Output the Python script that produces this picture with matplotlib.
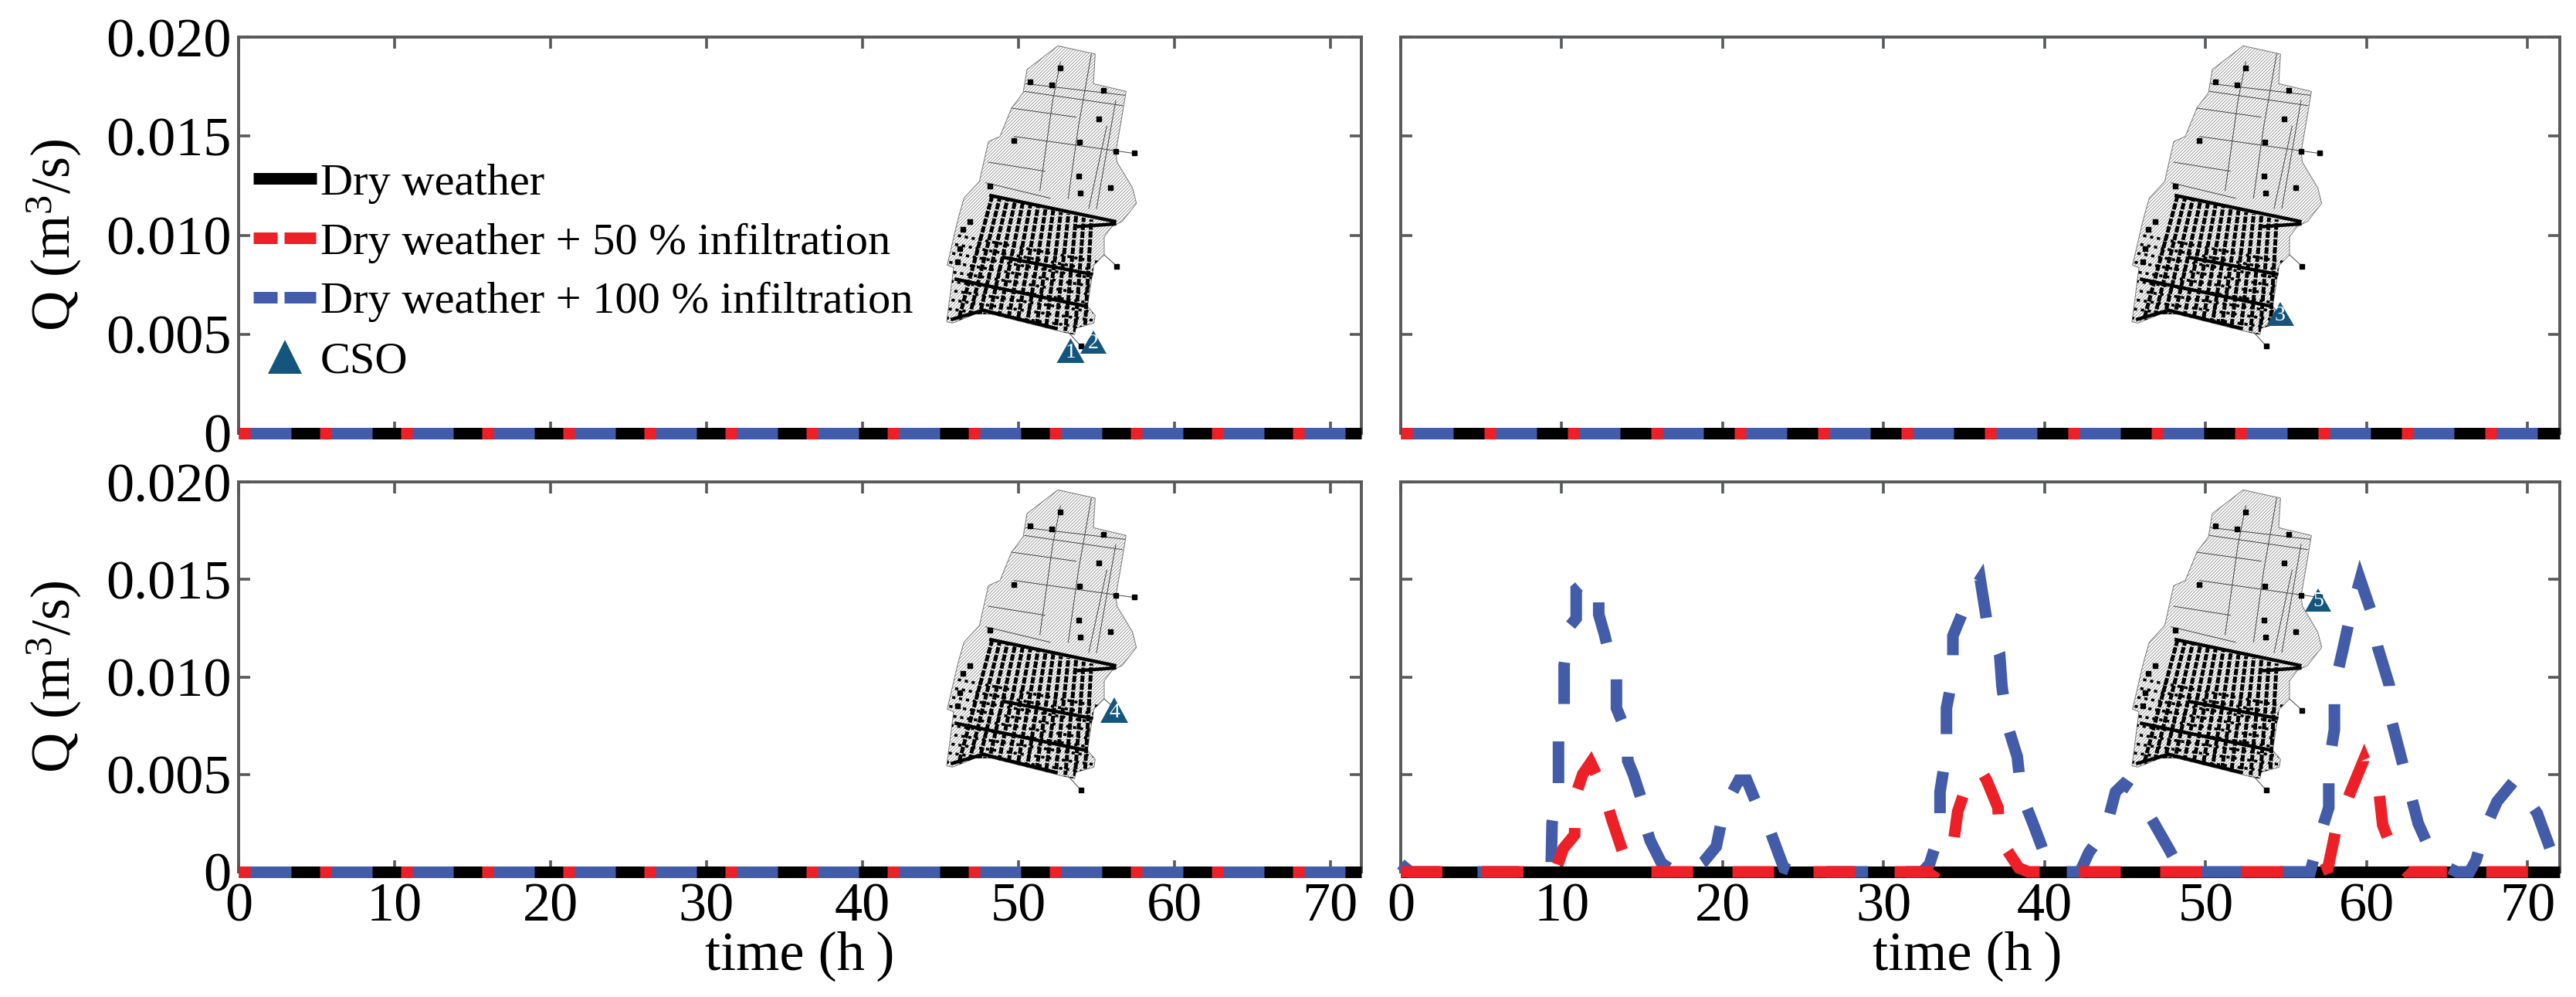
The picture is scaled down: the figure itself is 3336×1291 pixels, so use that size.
import numpy as np
import matplotlib
matplotlib.use("Agg")
import matplotlib.pyplot as plt
from matplotlib.lines import Line2D
from matplotlib.patches import Polygon

plt.rcParams['font.family'] = ['Liberation Serif', 'DejaVu Serif']
plt.rcParams['mathtext.fontset'] = 'custom'
plt.rcParams['mathtext.rm'] = 'Liberation Serif'
plt.rcParams['mathtext.default'] = 'rm'
plt.rcParams['lines.scale_dashes'] = False
plt.rcParams['hatch.linewidth'] = 0.5

W, H = 3336, 1291
PX = 0.72  # points per pixel at dpi 100

# data: flat panels and the panel with overflow events
zero_t = [0, 72]
zero_q = [0, 0]

blue_t = [0, 0.6, 9.0, 9.35, 9.4, 9.8, 9.8, 10.15, 10.15, 10.5, 10.9, 10.9, 11.6, 12.3, 12.3, 12.65,
          13.05, 13.4, 13.4, 14.1, 14.1, 14.45, 15.0, 15.2, 15.5, 16.2, 17.0, 17.9,
          18.8, 19.6, 20.1, 21.0, 21.5, 22.2, 22.9, 23.8, 24.5,
          32.4, 32.85, 33.5, 33.5, 33.9, 33.9, 34.3, 34.3, 35.3, 36.0, 36.4, 37.2, 37.35, 37.7,
          38.3, 38.55, 39.27, 40.0, 40.8,
          42.2, 42.75, 43.8, 44.4, 44.9, 45.6, 46.8, 47.7, 48.5,
          56.5, 57.0, 57.65, 57.65, 58.0, 58.0, 58.5, 59.0, 59.6, 60.3, 60.7, 61.4, 61.5,
          62.1, 62.6, 63.2, 63.9, 65.1, 65.6,
          66.4, 66.8, 67.3, 68.1, 69.2, 70.6, 71.4, 72.0]
blue_q = [0.0004, 0, 0, 0.00045, 0.0025, 0.0045, 0.0067, 0.0085, 0.0106, 0.0126, 0.0130, 0.0145, 0.0150,
          0.0142, 0.0132, 0.0122, 0.0108, 0.0100, 0.0084, 0.0070, 0.0057, 0.0050, 0.0036, 0.0024, 0.0016,
          0.00045, 0, 0,
          0.0005, 0.0013, 0.0033, 0.0047, 0.0047, 0.0033, 0.0022, 0.0002, 0,
          0, 0.0004, 0.0021, 0.0041, 0.0062, 0.0084, 0.0101, 0.0121, 0.0141, 0.0150, 0.0129, 0.0112, 0.0095,
          0.0075, 0.0059, 0.0040, 0.0025, 0.0009, 0,
          0, 0.0010, 0.0022, 0.0041, 0.0045, 0.0041, 0.0025, 0.0012, 0,
          0, 0.0016, 0.0033, 0.0055, 0.0073, 0.0095, 0.0113, 0.0132, 0.0150, 0.0133, 0.0115, 0.0096, 0.0079,
          0.0060, 0.0044, 0.0025, 0.0012, 0.0002, 0,
          0, 0.0006, 0.0021, 0.0036, 0.0047, 0.0030, 0.0012, 0.0008]

red_t = [0, 9.6, 10.1, 10.8, 10.85, 11.3, 11.8, 12.5, 13.15, 13.8, 14.3, 15.0,
         33.2, 34.3, 34.6, 35.3, 36.05, 36.4, 37.1, 37.2, 38.4, 39.0,
         57.0, 57.6, 58.1, 59.0, 59.85, 60.8, 61.0, 61.9, 62.5, 72.0]
red_q = [0, 0, 0.0012, 0.0019, 0.0039, 0.0050, 0.0056, 0.0044, 0.0026, 0.0010, 0.0004, 0,
         0, 0.0013, 0.0031, 0.0048, 0.0052, 0.0047, 0.0033, 0.0017, 0.0002, 0,
         0, 0.0002, 0.0022, 0.0041, 0.0058, 0.0039, 0.0024, 0.0005, 0, 0]

x_ticks = [0, 10, 20, 30, 40, 50, 60, 70]
y_ticks = [0, 0.005, 0.010, 0.015, 0.020]
y_labels = ['0', '0.005', '0.010', '0.015', '0.020']
legend_labels = ['Dry weather', 'Dry weather + 50 % infiltration', 'Dry weather + 100 % infiltration', 'CSO']

BLACK = '#000000'
RED = '#EE2027'
BLUE = '#435CA9'
CSO = '#14557E'
SPINE = '#58595B'

# panel boxes in pixels: left, top, right, bottom
boxes = [(309, 48, 1763, 561), (1814, 48, 3315, 561),
         (309, 624, 1763, 1129), (1814, 624, 3315, 1129)]
# dash repeat length of the flat lines in each panel, pixels
periods = [105, 108, 105]

# map shape, in pixels x3 relative to the crop origin of panel one
outline = [(510, 88), (655, 120), (648, 235), (775, 265), (755, 385), (735, 500), (740, 540), (800, 640),
           (815, 700), (760, 770), (720, 790), (690, 830), (690, 900), (650, 940), (640, 1000), (625, 1100),
           (655, 1135), (650, 1165), (580, 1185), (575, 1210), (530, 1200), (250, 1130), (190, 1130),
           (100, 1165), (78, 1160), (105, 950), (80, 940), (115, 790), (125, 750), (145, 680), (205, 615),
           (240, 460), (285, 440), (330, 330), (375, 270), (390, 180)]
thin_roads = [[(520, 150), (490, 300), (440, 650)], [(640, 120), (590, 400), (550, 680)],
              [(385, 235), (770, 280)], [(380, 265), (760, 320)], [(330, 330), (580, 365)],
              [(340, 440), (800, 505)], [(240, 540), (460, 575)], [(230, 620), (480, 680)],
              [(735, 300), (660, 720)], [(700, 400), (630, 720)], [(690, 900), (740, 945)],
              [(550, 1200), (600, 1255)]]
thick_roads = [[(115, 995), (620, 1100)], [(300, 910), (640, 975)], [(100, 1150), (220, 1115), (500, 1185)],
               [(250, 670), (730, 770)], [(590, 790), (730, 780)]]
nodes = [(403, 228), (487, 240), (686, 262), (668, 372), (338, 455), (594, 462), (590, 594), (714, 640),
         (598, 660), (246, 632), (168, 772), (520, 175), (735, 497), (808, 505), (120, 928), (130, 875),
         (140, 800), (738, 945), (600, 1255)]


def draw_map(ov, dx, dy):
    to_px = lambda p: (p[0] / 3 + 1200 + dx, p[1] / 3 + 30 + dy)
    shape = Polygon([to_px(p) for p in outline], closed=True, facecolor='white', edgecolor='#777777',
                    lw=0.7, hatch='////////', zorder=2)
    ov.add_patch(shape)
    for road in thin_roads:
        xs, ys = zip(*[to_px(p) for p in road])
        ov.plot(xs, ys, color='#444444', lw=0.7, zorder=3)
    for road in thick_roads:
        xs, ys = zip(*[to_px(p) for p in road])
        ov.plot(xs, ys, color='black', lw=3.2, zorder=4)
    # slanted street blocks of the dense quarter
    tops = np.linspace(255, 640, 14)
    for i, tx in enumerate(tops):
        ty = 670 + (tx - 255) * 0.24
        bx = tx - 130 + i * 8
        by = 1150 + (tx - 255) * 0.14
        (x0, y0), (x1, y1) = to_px((tx, ty)), to_px((bx, by))
        line, = ov.plot([x0, x1], [y0, y1], color='black', lw=3.6, ls=(i * 2, (6, 1.4)), zorder=4)
        line.set_clip_path(shape)
    for j in range(11):
        y0 = 790 + j * 36
        a = to_px((95 - j * 3, y0 + 30))
        b = to_px((700 - j * 3, y0 + 145 - j * 4))
        line, = ov.plot([a[0], b[0]], [a[1], b[1]], color='black', lw=2.6, ls=(j * 2, (3, 3.5)), zorder=4)
        line.set_clip_path(shape)
    xs, ys = zip(*[to_px(p) for p in nodes])
    ov.plot(xs, ys, 's', color='black', ms=5, zorder=5)


def draw_cso(ov, cx, apex, base, half, label):
    ov.add_patch(Polygon([(cx, apex), (cx - half, base), (cx + half, base)], closed=True, facecolor=CSO,
                         edgecolor='none', zorder=8))
    ov.text(cx, base - 1, label, color='white', fontsize=20, ha='center', va='bottom', zorder=9)


fig = plt.figure(figsize=(W / 100, H / 100), dpi=100, facecolor='white')
axes = []
for i, (l, t, r, b) in enumerate(boxes):
    ax = fig.add_axes([l / W, 1 - b / H, (r - l) / W, (b - t) / H])
    ax.set_xlim(0, 72)
    ax.set_ylim(0, 0.02)
    ax.set_xticks(x_ticks)
    ax.set_yticks(y_ticks)
    ax.set_yticklabels(y_labels if i in (0, 2) else [])
    if i < 2:
        ax.set_xticklabels([])
    ax.tick_params(direction='in', top=True, right=True, length=11, width=2.6, color=SPINE,
                   labelsize=52, pad=7)
    ax.tick_params(axis='x', pad=10)
    for s in ax.spines.values():
        s.set_color(SPINE)
        s.set_linewidth(2.8)
    ax.plot(zero_t, zero_q, color=BLACK, lw=15 * PX, solid_capstyle='butt', clip_on=False, zorder=3)
    if i < 3:
        p = periods[i]
        ax.plot(zero_t, zero_q, color=RED, lw=15 * PX, clip_on=False, zorder=4, dash_capstyle='butt',
                ls=(0, (54 * PX, (p - 54) * PX)))
        ax.plot(zero_t, zero_q, color=BLUE, lw=15 * PX, clip_on=False, zorder=5, dash_capstyle='butt',
                ls=((p - 15) * PX, (53 * PX, (p - 53) * PX)))
    else:
        ax.plot(blue_t, blue_q, color=BLUE, lw=15 * PX, clip_on=False, zorder=4, dash_capstyle='butt',
                dash_joinstyle='miter', ls=(0, (54 * PX, 49 * PX)))
        ax.plot(red_t, red_q, color=RED, lw=15 * PX, clip_on=False, zorder=5, dash_capstyle='butt',
                dash_joinstyle='miter', ls=(0, (54 * PX, 51 * PX)))
    axes.append(ax)

axes[0].set_ylabel('Q (m$^{3}$/s)', fontsize=52, labelpad=21)
axes[2].set_ylabel('Q (m$^{3}$/s)', fontsize=52, labelpad=21)
axes[2].set_xlabel('time (h\u2009)', fontsize=52, labelpad=-2)
axes[3].set_xlabel('time (h\u2009)', fontsize=52, labelpad=-2, x=0.489)

handles = [
    Line2D([], [], color=BLACK, lw=15 * PX, solid_capstyle='butt'),
    Line2D([], [], color=RED, lw=15 * PX, dash_capstyle='butt', ls=(0, (31 * PX, 9 * PX, 41 * PX, 60 * PX))),
    Line2D([], [], color=BLUE, lw=15 * PX, dash_capstyle='butt', ls=(0, (31 * PX, 9 * PX, 41 * PX, 60 * PX))),
    Line2D([], [], color=CSO, ls='none', marker='^', ms=44 * PX, mew=0),
]
axes[0].legend(handles, legend_labels, fontsize=42, frameon=False, loc='upper left',
               bbox_to_anchor=((328 - 309) / 1454, 1 - (211 - 48) / 513), borderaxespad=0, borderpad=0,
               handlelength=1.4, handletextpad=0.09, labelspacing=0.41)

# overlay in pixel coordinates for the catchment sketch
ov = fig.add_axes([0, 0, 1, 1], facecolor='none')
ov.set_xlim(0, W)
ov.set_ylim(H, 0)
ov.axis('off')
for dx, dy in [(0, 0), (1535, 0), (0, 575), (1535, 575)]:
    draw_map(ov, dx, dy)
draw_cso(ov, 1386.5, 438, 470, 18, '1')
draw_cso(ov, 1416, 428, 458, 17, '2')
draw_cso(ov, 2953, 391, 422, 18, '3')
draw_cso(ov, 1443, 903, 936, 18, '4')
draw_cso(ov, 3002, 762, 792, 17, '5')

fig.savefig('out.png', dpi=100)
